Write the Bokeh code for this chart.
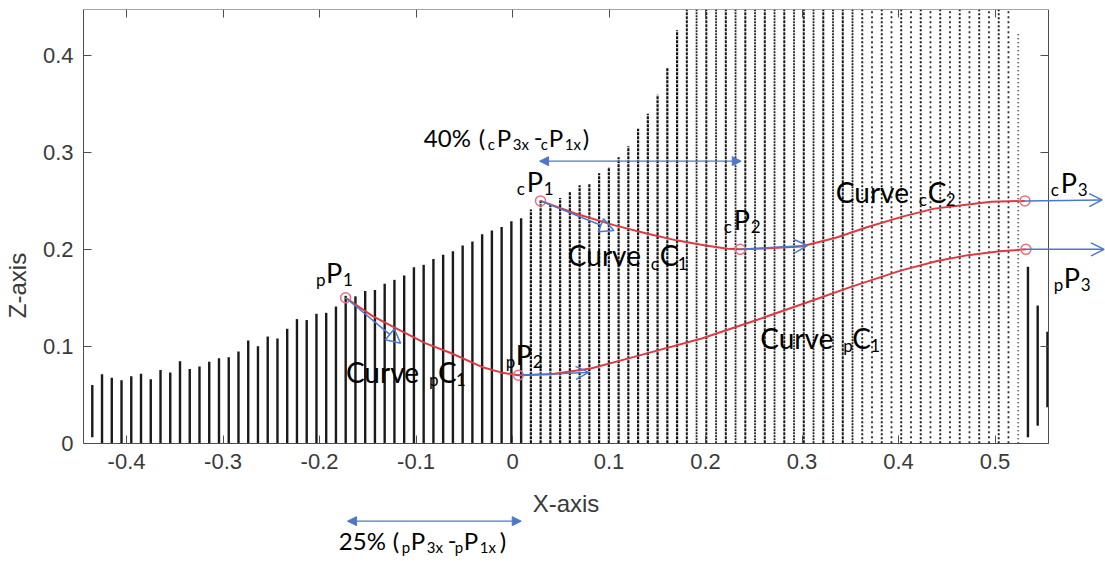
from bokeh.plotting import figure
from bokeh.models import (Range1d, LinearAxis, FixedTicker, CustomJSTickFormatter,
                          Label, Arrow, OpenHead, NormalHead, ColumnDataSource)
from bokeh.embed import file_html
from bokeh.resources import INLINE

# ---------------- data ----------------
# x position of every point-cloud column (X-axis)
col_x = [-0.4456, -0.4355, -0.4254, -0.4153, -0.4052, -0.3951, -0.3850, -0.3749, -0.3648, -0.3547,
         -0.3446, -0.3345, -0.3244, -0.3143, -0.3042, -0.2941, -0.2840, -0.2739, -0.2638, -0.2537,
         -0.2436, -0.2335, -0.2234, -0.2133, -0.2032, -0.1931, -0.1830, -0.1729, -0.1628, -0.1527,
         -0.1426, -0.1325, -0.1224, -0.1123, -0.1022, -0.0921, -0.0820, -0.0719, -0.0618, -0.0517,
         -0.0416, -0.0315, -0.0214, -0.0113, -0.0012, 0.0089, 0.0190, 0.0291, 0.0392, 0.0493,
         0.0594, 0.0695, 0.0796, 0.0897, 0.0998, 0.1099, 0.1200, 0.1301, 0.1402, 0.1503,
         0.1604, 0.1705, 0.1806, 0.1907, 0.2008, 0.2109, 0.2210, 0.2311, 0.2412, 0.2513,
         0.2614, 0.2715, 0.2816, 0.2917, 0.3018, 0.3119, 0.3220, 0.3321, 0.3422, 0.3523,
         0.3624, 0.3725, 0.3826, 0.3927, 0.4028, 0.4129, 0.4230, 0.4331, 0.4432, 0.4533,
         0.4634, 0.4735, 0.4836, 0.4937, 0.5038, 0.5139, 0.5240, 0.5341, 0.5442, 0.5543]
# top (Z) of every column
col_top = [0.051, 0.060, 0.071, 0.0675, 0.065, 0.069, 0.0715, 0.066, 0.0755, 0.073,
           0.0845, 0.0765, 0.079, 0.084, 0.0875, 0.0885, 0.0945, 0.106, 0.100, 0.110,
           0.108, 0.118, 0.128, 0.127, 0.1335, 0.1345, 0.141, 0.152, 0.1515, 0.157,
           0.158, 0.1645, 0.1685, 0.173, 0.1815, 0.184, 0.190, 0.1945, 0.198, 0.204,
           0.208, 0.2155, 0.2195, 0.223, 0.229, 0.232, 0.241, 0.2505, 0.247, 0.253,
           0.260, 0.266, 0.2675, 0.2785, 0.285, 0.295, 0.3065, 0.3245, 0.340, 0.3595,
           0.3875, 0.426, 0.45, 0.45, 0.45, 0.45, 0.45, 0.45, 0.45, 0.45,
           0.45, 0.45, 0.45, 0.45, 0.45, 0.45, 0.45, 0.45, 0.45, 0.45,
           0.45, 0.45, 0.45, 0.45, 0.45, 0.45, 0.45, 0.45, 0.45, 0.45,
           0.45, 0.45, 0.45, 0.45, 0.45, 0.45, 0.424, 0.182, 0.142, 0.115]
# bottom (Z) of every column
col_bottom = [0.013, 0.006] + [0.0] * 95 + [0.006, 0.018, 0.037]

# control points
pP_x = [-0.173, 0.006, 0.532]
pP_z = [0.150, 0.070, 0.200]
cP_x = [0.029, 0.236, 0.531]
cP_z = [0.250, 0.200, 0.250]

# curve pC1
pC_x = [-0.173, -0.145, -0.116, -0.090, -0.064, -0.030, -0.012, 0.006, 0.040, 0.081,
        0.126, 0.196, 0.250, 0.299, 0.350, 0.402, 0.440, 0.472, 0.505, 0.532]
pC_z = [0.150, 0.131, 0.116, 0.103, 0.093, 0.078, 0.073, 0.070, 0.071, 0.077,
        0.089, 0.108, 0.126, 0.143, 0.161, 0.178, 0.188, 0.194, 0.198, 0.200]
# curves cC1 + cC2
cC_x = [0.029, 0.065, 0.105, 0.140, 0.171, 0.200, 0.223, 0.236, 0.265, 0.299,
        0.335, 0.368, 0.405, 0.437, 0.470, 0.496, 0.531]
cC_z = [0.250, 0.237, 0.225, 0.216, 0.209, 0.204, 0.2005, 0.200, 0.201, 0.203,
        0.212, 0.223, 0.234, 0.242, 0.246, 0.249, 0.250]

# tangent vectors (start x, start z, end x, end z)
tan_x0 = [-0.173, 0.029, 0.006, 0.236, 0.531, 0.532]
tan_z0 = [0.150, 0.250, 0.070, 0.200, 0.250, 0.200]
tan_x1 = [-0.116, 0.105, 0.079, 0.306, 0.611, 0.613]
tan_z1 = [0.103, 0.2195, 0.073, 0.204, 0.251, 0.200]

# span markers: 40% (cP) and 25% (pP): (x from, x to, z)
span40 = (0.028, 0.237, 0.291)
span25 = (-0.171, 0.009, -0.0805)

x_ticks = [-0.4, -0.3, -0.2, -0.1, 0.0, 0.1, 0.2, 0.3, 0.4, 0.5]
z_ticks = [0.0, 0.1, 0.2, 0.3, 0.4]

# axes box (data limits of the drawn box)
X_LO, X_HI = -0.4446, 0.5554
Z_LO, Z_HI = 0.0, 0.4475

# ---------------- figure ----------------
AX = "#4d4d4d"
RED = "#dd3a44"
CIRC = "#e57283"
BLUE = "#4a78cc"
FONT = "Lato"

W, H = 1105, 561
LEFT, TOP = 83, 9
PX_X = 965.0   # px per x unit
PX_Z = 969.0   # px per z unit
x_end = X_LO + (W - LEFT) / PX_X
z_start = Z_HI - (H - TOP) / PX_Z

p = figure(width=W, height=H, output_backend="svg", toolbar_location=None,
           x_range=Range1d(X_LO, x_end), y_range=Range1d(z_start, Z_HI),
           min_border=0, min_border_left=LEFT, min_border_right=0, min_border_top=TOP,
           min_border_bottom=0, x_axis_label="X-axis", y_axis_label="Z-axis")
p.grid.visible = False
p.outline_line_color = None
p.background_fill_color = "white"
p.border_fill_color = "white"

fmt = CustomJSTickFormatter(code="return Math.abs(tick) < 1e-9 ? '0' : tick.toFixed(1);")
blank = CustomJSTickFormatter(code="return '';")

for ax, ticks in ((p.xaxis[0], x_ticks), (p.yaxis[0], z_ticks)):
    ax.ticker = FixedTicker(ticks=ticks)
    ax.formatter = fmt
    ax.major_tick_in = 8
    ax.major_tick_out = 0
    ax.minor_tick_line_color = None
    ax.axis_line_color = AX
    ax.major_tick_line_color = AX
    ax.major_label_text_font = "Liberation Sans"
    ax.major_label_text_font_size = "22px"
    ax.major_label_text_color = "#3a3a3a"
    ax.axis_label_text_font = "Liberation Sans"
    ax.axis_label_text_font_size = "24px"
    ax.axis_label_text_font_style = "normal"
    ax.axis_label_text_color = "#3a3a3a"
p.xaxis[0].fixed_location = Z_LO
p.xaxis[0].bounds = (X_LO, X_HI)
p.xaxis[0].major_label_standoff = 11
p.xaxis[0].axis_label_standoff = 17
p.yaxis[0].bounds = (Z_LO, Z_HI)
p.yaxis[0].major_label_standoff = 10
p.yaxis[0].axis_label_standoff = 9

top_ax = LinearAxis(ticker=FixedTicker(ticks=x_ticks), formatter=blank, fixed_location=Z_HI,
                    bounds=(X_LO, X_HI), major_tick_in=8, major_tick_out=0,
                    minor_tick_line_color=None, axis_line_color=AX, major_tick_line_color=AX,
                    major_label_standoff=0)
p.add_layout(top_ax, "above")
right_ax = LinearAxis(ticker=FixedTicker(ticks=z_ticks), formatter=blank, fixed_location=X_HI,
                      bounds=(Z_LO, Z_HI), major_tick_in=8, major_tick_out=0,
                      minor_tick_line_color=None, axis_line_color=AX, major_tick_line_color=AX,
                      major_label_standoff=0)
p.add_layout(right_ax, "right")

# ---------------- point-cloud columns ----------------
groups = {}
n = len(col_x)
for i in range(n):
    if i < 46 or i >= n - 3:
        key = ("solid", 2.4, "#1a1a1a")
    elif i < 62:
        key = ("3 1", 2.2, "#111111")
    elif i < 80:
        key = ("3 1", 2.0, "#1a1a1a") if i % 2 == 0 else ("2 1", 1.8, "#222222")
    elif i < 96:
        key = ("2 2", 1.9, "#1a1a1a") if i % 2 == 0 else ("2 3", 1.8, "#2a2a2a")
    else:
        key = ("1 3", 1.8, "#333333")
    groups.setdefault(key, []).append(i)

for (dash, lw, col), idx in groups.items():
    src = ColumnDataSource(dict(x=[col_x[i] for i in idx],
                                y0=[col_bottom[i] for i in idx],
                                y1=[min(col_top[i], Z_HI) for i in idx]))
    p.segment(x0="x", y0="y0", x1="x", y1="y1", source=src,
              line_width=lw, line_color=col, line_dash=dash)

# ---------------- curves ----------------
p.line(pC_x, pC_z, line_color=RED, line_width=2)
p.line(cC_x, cC_z, line_color=RED, line_width=2)

# tangent arrows
for j in range(len(tan_x0)):
    if j < 2:
        head = NormalHead(size=14, line_color=BLUE, line_width=1.5, fill_alpha=0)
    else:
        head = OpenHead(size=13, line_color=BLUE, line_width=1.5)
    p.add_layout(Arrow(end=head, x_start=tan_x0[j], y_start=tan_z0[j],
                       x_end=tan_x1[j], y_end=tan_z1[j],
                       line_color=BLUE, line_width=1.5))

for (xa, xb, zz) in (span40, span25):
    p.add_layout(Arrow(start=NormalHead(size=9, line_color=BLUE, fill_color=BLUE),
                       end=NormalHead(size=9, line_color=BLUE, fill_color=BLUE),
                       x_start=xa, y_start=zz, x_end=xb, y_end=zz,
                       line_color=BLUE, line_width=1.3))

p.scatter(pP_x, pP_z, marker="circle", size=10, fill_color=None, line_color=CIRC, line_width=1.5)
p.scatter(cP_x, cP_z, marker="circle", size=10, fill_color=None, line_color=CIRC, line_width=1.5)

# ---------------- labels ----------------
def compound(x, y, parts):
    for txt, dx, dy, size in parts:
        p.add_layout(Label(x=x, y=y, x_offset=dx, y_offset=dy + round(0.42 * size), text=txt,
                           text_font=FONT, text_font_size=f"{size}px",
                           text_color="black", text_baseline="alphabetic", text_align="left"))

def point_label(x, y, pre, num):
    compound(x, y, [(pre, -10, -3, 17), ("P", 0, 0, 27), (num, 17, -3, 17)])

point_label(-0.1934, 0.1645, "p", "1")
point_label(0.0034, 0.0802, "p", "2")
point_label(0.5713, 0.1593, "p", "3")
point_label(0.0148, 0.2590, "c", "1")
point_label(0.2293, 0.2195, "c", "2")
point_label(0.5682, 0.2574, "c", "3")

def curve_label(x, y, pre, num):
    compound(x, y, [("Curve", 0, 0, 28), (pre, 83, -3, 17), ("C", 92, 0, 28), (num, 110, -3, 17)])

curve_label(-0.1727, 0.0613, "p", "1")
curve_label(0.0573, 0.1813, "c", "1")
curve_label(0.3350, 0.2470, "c", "2")
curve_label(0.2566, 0.0964, "p", "1")

def span_label(x, y, pct, pre, offs):
    texts = [(pct, 0, 24), ("(", 0, 24), (pre, -3, 15), ("P", 0, 24), ("3x", -3, 15),
             ("-", 0, 24), (pre, -3, 15), ("P", 0, 24), ("1x", -3, 15), (")", 0, 24)]
    compound(x, y, [(t, dx, dy, s) for (t, dy, s), dx in zip(texts, offs)])

span_label(-0.0919, 0.3055, "40%", "c", [0, 55, 64, 73, 89, 110, 117, 125, 141, 159])
span_label(-0.1800, -0.1107, "25%", "p", [0, 54, 63, 72, 88, 109, 116, 125, 141, 161])

open("out.html", "w").write(file_html(p, INLINE))
